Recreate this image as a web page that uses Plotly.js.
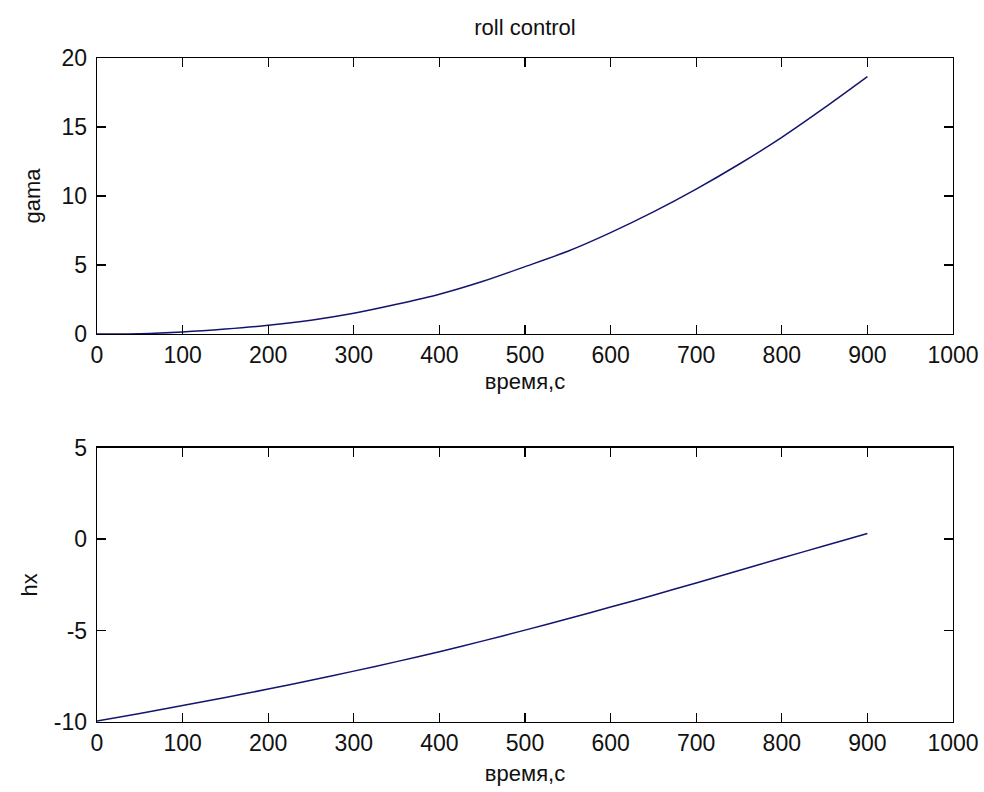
<!DOCTYPE html>
<html>
<head>
<meta charset="utf-8">
<script src="https://cdn.plot.ly/plotly-3.0.1.min.js"></script>
<style>html,body{margin:0;padding:0;background:#fff;}#chart{width:984px;height:792px;}</style>
</head>
<body>
<div id="chart"></div>
<script>
// time, s
const time = [0, 50, 100, 150, 200, 250, 300, 350, 400, 450, 500, 550, 600, 650, 700, 750, 800, 850, 900];
// roll angle gamma
const gama = [0, 0.02, 0.15, 0.36, 0.63, 1.0, 1.5, 2.15, 2.88, 3.8, 4.88, 6.0, 7.35, 8.85, 10.5, 12.3, 14.25, 16.4, 18.65];
// hx
const hx = [-9.95, -9.53, -9.1, -8.66, -8.2, -7.72, -7.22, -6.7, -6.16, -5.58, -4.98, -4.36, -3.72, -3.07, -2.4, -1.72, -1.04, -0.37, 0.3];

const xTicks = [0, 100, 200, 300, 400, 500, 600, 700, 800, 900, 1000];
const gamaTicks = [0, 5, 10, 15, 20];
const hxTicks = [-10, -5, 0, 5];

const titleText = 'roll control';
const xLabel = 'время,с';
const gamaLabel = 'gama';
const hxLabel = 'hx';

const FONT = 'Liberation Sans, Arial, sans-serif';
const lineColor = '#14146e';

function xAxis(anchor, standoff) {
  return {
    anchor: anchor, domain: [97/984, 953/984], range: [0, 1000],
    tickmode: 'array', tickvals: xTicks, ticktext: xTicks.map(String),
    ticks: 'inside', ticklen: 9, tickwidth: 1.3, tickcolor: '#000',
    showline: true, linecolor: '#000', linewidth: 1.3, mirror: 'allticks',
    showgrid: false, zeroline: false,
    tickfont: {family: FONT, size: 23, color: '#111'},
    title: {text: xLabel, font: {family: FONT, size: 22, color: '#111'}, standoff: standoff},
    automargin: false, fixedrange: true
  };
}
function yAxis(anchor, domain, range, ticks, label, standoff) {
  return {
    anchor: anchor, domain: domain, range: range,
    tickmode: 'array', tickvals: ticks, ticktext: ticks.map(String),
    ticks: 'inside', ticklen: 9, tickwidth: 1.3, tickcolor: '#000',
    showline: true, linecolor: '#000', linewidth: 1.3, mirror: 'allticks',
    showgrid: false, zeroline: false,
    ticklabelstandoff: 4,
    tickfont: {family: FONT, size: 23, color: '#111'},
    title: {text: label, font: {family: FONT, size: 22, color: '#111'}, standoff: standoff},
    automargin: false, fixedrange: true
  };
}

const traces = [
  {x: time, y: gama, xaxis: 'x', yaxis: 'y', mode: 'lines', type: 'scatter',
   line: {color: lineColor, width: 1.5, shape: 'spline', smoothing: 0.8}, name: 'gama', showlegend: false},
  {x: time, y: hx, xaxis: 'x2', yaxis: 'y2', mode: 'lines', type: 'scatter',
   line: {color: lineColor, width: 1.5, shape: 'spline', smoothing: 0.8}, name: 'hx', showlegend: false}
];

const layout = {
  width: 984, height: 792,
  margin: {l: 0, r: 0, t: 0, b: 0},
  paper_bgcolor: '#fff', plot_bgcolor: '#fff',
  showlegend: false,
  title: {text: titleText, font: {family: FONT, size: 22, color: '#111'},
          x: 525/984, xanchor: 'center', xref: 'paper', y: 1 - 27/792, yanchor: 'middle', yref: 'paper'},
  xaxis: xAxis('y', 6),
  yaxis: yAxis('x', [1 - 334/792, 1 - 58/792], [0, 20], gamaTicks, gamaLabel, 14),
  xaxis2: xAxis('y2', 10),
  yaxis2: yAxis('x2', [1 - 722/792, 1 - 447.5/792], [-10, 5], hxTicks, hxLabel, 10)
};

Plotly.newPlot('chart', traces, layout, {displayModeBar: false, staticPlot: true});
</script>
</body>
</html>
